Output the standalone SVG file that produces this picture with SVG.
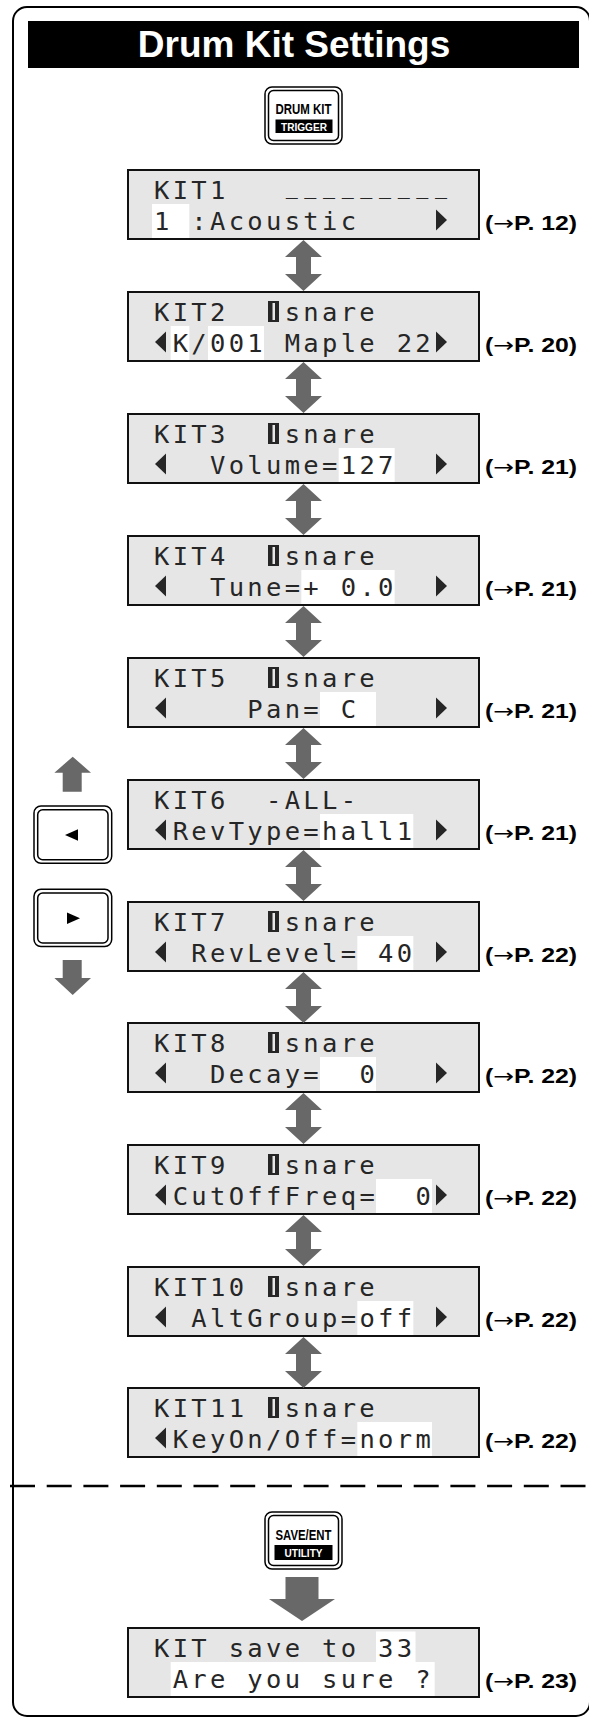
<svg xmlns="http://www.w3.org/2000/svg" width="589" height="1718" viewBox="0 0 589 1718">
<style>
.frame{fill:none;stroke:#000;stroke-width:2}
.lcdbox{fill:#e6e6e6;stroke:#111;stroke-width:2}
.hl{fill:#fff}
.lcd{font-family:"DejaVu Sans Mono",monospace;font-size:25.5px;letter-spacing:3.32px;fill:#262626;white-space:pre}
.us{font-size:20px;letter-spacing:6.63px}
.tri{fill:#262626}
.ref{font-family:"Liberation Sans",Arial,sans-serif;font-weight:bold;font-size:20px;fill:#000}
.arw{font-family:"DejaVu Sans",sans-serif;font-weight:normal}
.garrow{fill:#686868}
.btn{fill:#fff;stroke:#000;stroke-width:1.5}
.btni{fill:none;stroke:#000;stroke-width:1.5}
.btxt{font-family:"Liberation Sans",Arial,sans-serif;font-weight:bold;font-size:14px;fill:#000;text-anchor:middle}
.bsub{font-size:11px;fill:#fff}
.title{font-family:"Liberation Sans",Arial,sans-serif;font-weight:bold;font-size:37px;fill:#fff;text-anchor:middle}
</style>
<defs>
<polygon id="dbl" points="303.5,0 322,17 311,17 311,34 322,34 303.5,51 285,34 296,34 296,17 285,17"/>
<rect id="box" class="lcdbox" x="128" y="0" width="351" height="69"/>
<polygon id="lt" class="tri" points="155,50 166,39.5 166,60.5"/>
<polygon id="rt" class="tri" points="436,39.5 447,50 436,60.5"/>
<g id="blk"><rect x="268" y="9" width="11" height="21" fill="#262626"/><rect x="272.5" y="11" width="2.5" height="17" fill="#e6e6e6"/></g>
</defs>

<rect class="frame" x="13" y="7" width="577" height="1709" rx="14"/>
<line x1="10" y1="1486" x2="589" y2="1486" stroke="#000" stroke-width="2.5" stroke-dasharray="25 11.7"/>

<g id="title">
<rect x="28" y="21" width="551" height="47" fill="#000"/>
<text class="title" x="294" y="57">Drum Kit Settings</text>
</g>

<g id="btn-drumkit" transform="translate(265,87)">
<rect class="btn" x="0" y="0" width="77" height="57" rx="7"/>
<rect class="btni" x="3.5" y="3.5" width="70" height="50" rx="5"/>
<rect x="10.5" y="32.5" width="57" height="13.5" fill="#000"/>
<text class="btxt"><tspan x="38.5" y="26.5" textLength="56" lengthAdjust="spacingAndGlyphs">DRUM KIT</tspan><tspan class="bsub" x="39" y="43.5" textLength="46" lengthAdjust="spacingAndGlyphs">TRIGGER</tspan></text>
</g>

<g id="kit1" transform="translate(0,170)">
<use href="#box"/>
<rect class="hl" x="152" y="34" width="37.3" height="34"/>
<text class="lcd"><tspan x="154" y="29">KIT1</tspan><tspan class="us" x="285.67" y="24">_________</tspan><tspan x="154" y="59.5">1</tspan><tspan x="191.33">:Acoustic</tspan></text>
<use href="#rt"/>
<text class="ref" x="485" y="59.5" textLength="92" lengthAdjust="spacingAndGlyphs">(<tspan class="arw">→</tspan>P. 12)</text>
</g>

<g id="kit2" transform="translate(0,292)">
<use href="#box"/>
<rect class="hl" x="170.67" y="34" width="18.67" height="34"/>
<rect class="hl" x="208" y="34" width="56" height="34"/>
<use href="#blk"/>
<use href="#lt"/>
<text class="lcd"><tspan x="154" y="29">KIT2</tspan><tspan x="284.67">snare</tspan><tspan x="172.67" y="59.5">K/001</tspan><tspan x="284.67">Maple</tspan><tspan x="396.67">22</tspan></text>
<use href="#rt"/>
<text class="ref" x="485" y="59.5" textLength="92" lengthAdjust="spacingAndGlyphs">(<tspan class="arw">→</tspan>P. 20)</text>
</g>

<g id="kit3" transform="translate(0,414)">
<use href="#box"/>
<rect class="hl" x="338.67" y="34" width="56" height="34"/>
<use href="#blk"/>
<use href="#lt"/>
<text class="lcd"><tspan x="154" y="29">KIT3</tspan><tspan x="284.67">snare</tspan><tspan x="210" y="59.5">Volume=127</tspan></text>
<use href="#rt"/>
<text class="ref" x="485" y="59.5" textLength="92" lengthAdjust="spacingAndGlyphs">(<tspan class="arw">→</tspan>P. 21)</text>
</g>

<g id="kit4" transform="translate(0,536)">
<use href="#box"/>
<rect class="hl" x="301.33" y="34" width="93.3" height="34"/>
<use href="#blk"/>
<use href="#lt"/>
<text class="lcd"><tspan x="154" y="29">KIT4</tspan><tspan x="284.67">snare</tspan><tspan x="210" y="59.5">Tune=+ 0.0</tspan></text>
<use href="#rt"/>
<text class="ref" x="485" y="59.5" textLength="92" lengthAdjust="spacingAndGlyphs">(<tspan class="arw">→</tspan>P. 21)</text>
</g>

<g id="kit5" transform="translate(0,658)">
<use href="#box"/>
<rect class="hl" x="320" y="34" width="56" height="34"/>
<use href="#blk"/>
<use href="#lt"/>
<text class="lcd"><tspan x="154" y="29">KIT5</tspan><tspan x="284.67">snare</tspan><tspan x="247.33" y="59.5">Pan= C</tspan></text>
<use href="#rt"/>
<text class="ref" x="485" y="59.5" textLength="92" lengthAdjust="spacingAndGlyphs">(<tspan class="arw">→</tspan>P. 21)</text>
</g>

<g id="kit6" transform="translate(0,780)">
<use href="#box"/>
<rect class="hl" x="320" y="34" width="93.3" height="34"/>
<use href="#lt"/>
<text class="lcd"><tspan x="154" y="29">KIT6</tspan><tspan x="266">-ALL-</tspan><tspan x="172.67" y="59.5">RevType=hall1</tspan></text>
<use href="#rt"/>
<text class="ref" x="485" y="59.5" textLength="92" lengthAdjust="spacingAndGlyphs">(<tspan class="arw">→</tspan>P. 21)</text>
</g>

<g id="kit7" transform="translate(0,902)">
<use href="#box"/>
<rect class="hl" x="357.33" y="34" width="56" height="34"/>
<use href="#blk"/>
<use href="#lt"/>
<text class="lcd"><tspan x="154" y="29">KIT7</tspan><tspan x="284.67">snare</tspan><tspan x="191.33" y="59.5">RevLevel= 40</tspan></text>
<use href="#rt"/>
<text class="ref" x="485" y="59.5" textLength="92" lengthAdjust="spacingAndGlyphs">(<tspan class="arw">→</tspan>P. 22)</text>
</g>

<g id="kit8" transform="translate(0,1023)">
<use href="#box"/>
<rect class="hl" x="320" y="34" width="56" height="34"/>
<use href="#blk"/>
<use href="#lt"/>
<text class="lcd"><tspan x="154" y="29">KIT8</tspan><tspan x="284.67">snare</tspan><tspan x="210" y="59.5">Decay=  0</tspan></text>
<use href="#rt"/>
<text class="ref" x="485" y="59.5" textLength="92" lengthAdjust="spacingAndGlyphs">(<tspan class="arw">→</tspan>P. 22)</text>
</g>

<g id="kit9" transform="translate(0,1145)">
<use href="#box"/>
<rect class="hl" x="376" y="34" width="56" height="34"/>
<use href="#blk"/>
<use href="#lt"/>
<text class="lcd"><tspan x="154" y="29">KIT9</tspan><tspan x="284.67">snare</tspan><tspan x="172.67" y="59.5">CutOffFreq=  0</tspan></text>
<use href="#rt"/>
<text class="ref" x="485" y="59.5" textLength="92" lengthAdjust="spacingAndGlyphs">(<tspan class="arw">→</tspan>P. 22)</text>
</g>

<g id="kit10" transform="translate(0,1267)">
<use href="#box"/>
<rect class="hl" x="357.33" y="34" width="56" height="34"/>
<use href="#blk"/>
<use href="#lt"/>
<text class="lcd"><tspan x="154" y="29">KIT10</tspan><tspan x="284.67">snare</tspan><tspan x="191.33" y="59.5">AltGroup=off</tspan></text>
<use href="#rt"/>
<text class="ref" x="485" y="59.5" textLength="92" lengthAdjust="spacingAndGlyphs">(<tspan class="arw">→</tspan>P. 22)</text>
</g>

<g id="kit11" transform="translate(0,1388)">
<use href="#box"/>
<rect class="hl" x="357.33" y="34" width="74.7" height="34"/>
<use href="#blk"/>
<use href="#lt"/>
<text class="lcd"><tspan x="154" y="29">KIT11</tspan><tspan x="284.67">snare</tspan><tspan x="172.67" y="59.5">KeyOn/Off=norm</tspan></text>
<text class="ref" x="485" y="59.5" textLength="92" lengthAdjust="spacingAndGlyphs">(<tspan class="arw">→</tspan>P. 22)</text>
</g>

<g id="nav-buttons">
<polygon class="garrow" points="72.7,756.7 91,772.7 81.7,772.7 81.7,791.7 62.7,791.7 62.7,772.7 54.4,772.7"/>
<rect class="btn" x="34" y="806" width="77.7" height="57.3" rx="7"/>
<rect class="btni" x="37.7" y="809.7" width="70.3" height="50" rx="5"/>
<polygon fill="#000" points="65,835 78,829.3 78,840.7"/>
<rect class="btn" x="34" y="889.3" width="77.7" height="57.3" rx="7"/>
<rect class="btni" x="37.7" y="893" width="70.3" height="50" rx="5"/>
<polygon fill="#000" points="67,912.6 80,918.3 67,924"/>
<polygon class="garrow" points="62.7,960 81.7,960 81.7,978 91,978 72.7,995 54.4,978 62.7,978"/>
</g>

<g id="btn-saveent" transform="translate(265,1512)">
<rect class="btn" x="0" y="0" width="77" height="57" rx="7"/>
<rect class="btni" x="3.5" y="3.5" width="70" height="50" rx="5"/>
<rect x="9.5" y="33" width="58" height="15" fill="#000"/>
<text class="btxt"><tspan x="38.5" y="27.5" textLength="56" lengthAdjust="spacingAndGlyphs">SAVE/ENT</tspan><tspan class="bsub" x="38.5" y="45" textLength="38" lengthAdjust="spacingAndGlyphs">UTILITY</tspan></text>
</g>

<g id="save" transform="translate(0,1628)">
<use href="#box"/>
<rect class="hl" x="376" y="3.5" width="39.5" height="30.5"/>
<rect class="hl" x="170.67" y="34" width="264" height="34"/>
<text class="lcd"><tspan x="154" y="29">KIT</tspan><tspan x="228.67">save</tspan><tspan x="322">to</tspan><tspan x="378">33</tspan><tspan x="172.67" y="59.5">Are</tspan><tspan x="247.33">you</tspan><tspan x="322">sure</tspan><tspan x="415.33">?</tspan></text>
<text class="ref" x="485" y="59.5" textLength="92" lengthAdjust="spacingAndGlyphs">(<tspan class="arw">→</tspan>P. 23)</text>
</g>

<g id="connectors">
<use href="#dbl" class="garrow" y="240"/>
<use href="#dbl" class="garrow" y="362"/>
<use href="#dbl" class="garrow" y="484"/>
<use href="#dbl" class="garrow" y="606"/>
<use href="#dbl" class="garrow" y="728"/>
<use href="#dbl" class="garrow" y="850"/>
<use href="#dbl" class="garrow" y="972"/>
<use href="#dbl" class="garrow" y="1093"/>
<use href="#dbl" class="garrow" y="1215"/>
<use href="#dbl" class="garrow" y="1337"/>
<polygon class="garrow" points="285.5,1577 318.5,1577 318.5,1599 335,1599 302,1621 269,1599 285.5,1599"/>
</g>
</svg>
